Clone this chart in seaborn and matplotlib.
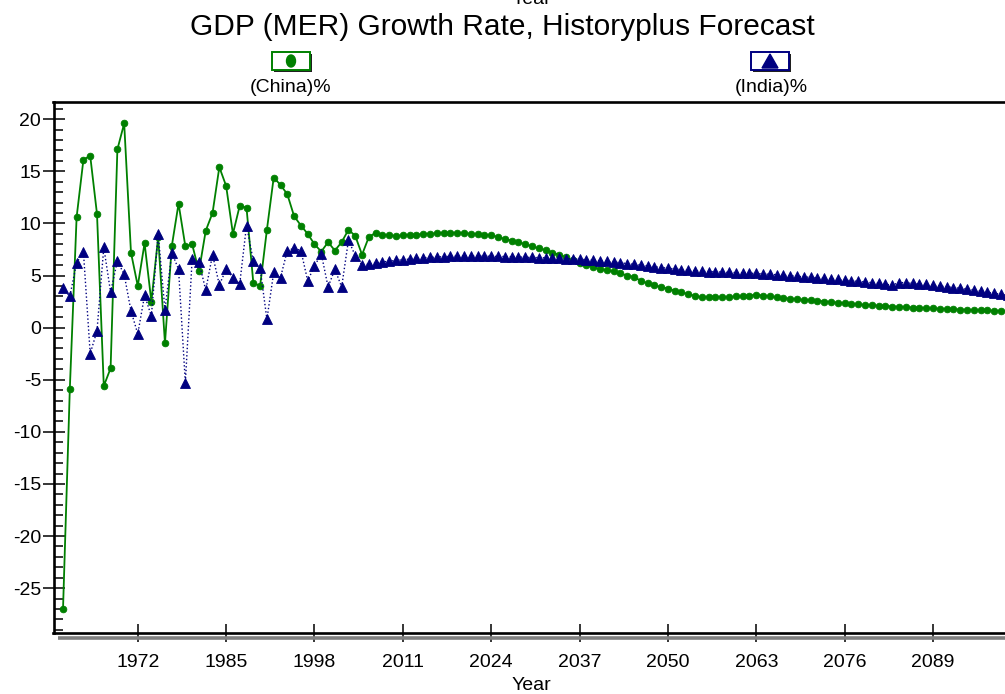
import matplotlib
matplotlib.use("Agg")
import matplotlib.pyplot as plt
import seaborn as sns
import pandas as pd
from matplotlib.ticker import MultipleLocator, FixedLocator
from matplotlib.patches import Rectangle, Ellipse, Polygon
from matplotlib.lines import Line2D

# ---- data -------------------------------------------------------------
hist_years = list(range(1961, 2005))
fcst_years = list(range(2005, 2101))

china_hist = [-27.0, -5.9, 10.6, 16.1, 16.5, 10.9, -5.6, -3.9, 17.1, 19.6,
              7.2, 4.0, 8.1, 2.5, 8.7, -1.5, 7.8, 11.9, 7.8, 8.0,
              5.4, 9.3, 11.0, 15.4, 13.6, 9.0, 11.7, 11.5, 4.3, 4.0,
              9.4, 14.4, 13.7, 12.8, 10.7, 9.8, 9.0, 8.0, 7.3, 8.2,
              7.4, 8.2, 9.4, 8.8]
china_fcst = [7.0, 8.7, 9.1, 8.9, 8.85, 8.8, 8.85, 8.9, 8.9, 9.0,
              9.0, 9.05, 9.1, 9.1, 9.1, 9.05, 9.0, 8.95, 8.9, 8.85,
              8.7, 8.5, 8.35, 8.2, 8.0, 7.8, 7.6, 7.45, 7.2, 7.0,
              6.75, 6.45, 6.2, 6.0, 5.8, 5.6, 5.5, 5.4, 5.2, 5.0,
              4.85, 4.5, 4.25, 4.05, 3.9, 3.75, 3.55, 3.4, 3.2, 3.05,
              2.9, 2.95, 2.95, 2.92, 2.92, 3.0, 3.0, 3.08, 3.14, 3.08,
              3.0, 2.9, 2.82, 2.78, 2.72, 2.66, 2.63, 2.57, 2.5, 2.44,
              2.38, 2.32, 2.28, 2.22, 2.18, 2.15, 2.1, 2.06, 2.02, 1.99,
              1.96, 1.93, 1.9, 1.87, 1.84, 1.8, 1.77, 1.75, 1.73, 1.71,
              1.69, 1.67, 1.65, 1.63, 1.6, 1.57]

india_hist = [3.8, 3.0, 6.2, 7.3, -2.5, -0.3, 7.7, 3.4, 6.4, 5.1,
              1.6, -0.6, 3.1, 1.1, 9.0, 1.7, 7.2, 5.6, -5.3, 6.6,
              6.3, 3.6, 7.0, 4.1, 5.6, 4.8, 4.2, 9.8, 6.4, 5.7,
              0.8, 5.3, 4.8, 7.4, 7.6, 7.4, 4.5, 5.9, 7.1, 3.9,
              5.6, 3.9, 8.4, 6.9]
india_fcst = [6.0, 6.1, 6.2, 6.3, 6.38, 6.45, 6.52, 6.58, 6.64, 6.7,
              6.74, 6.78, 6.81, 6.84, 6.86, 6.87, 6.87, 6.87, 6.86, 6.85,
              6.84, 6.82, 6.8, 6.78, 6.76, 6.74, 6.72, 6.7, 6.68, 6.66,
              6.63, 6.6, 6.56, 6.52, 6.47, 6.42, 6.36, 6.3, 6.22, 6.15,
              6.07, 6.0, 5.92, 5.84, 5.77, 5.7, 5.62, 5.56, 5.5, 5.45,
              5.41, 5.38, 5.35, 5.32, 5.3, 5.28, 5.26, 5.23, 5.2, 5.16,
              5.12, 5.08, 5.03, 4.98, 4.93, 4.88, 4.83, 4.78, 4.73, 4.67,
              4.62, 4.56, 4.5, 4.44, 4.38, 4.32, 4.25, 4.17, 4.08, 4.33,
              4.3, 4.25, 4.2, 4.14, 4.07, 4.0, 3.93, 3.85, 3.77, 3.68,
              3.6, 3.5, 3.4, 3.3, 3.2, 3.1]

x_ticks = [1972, 1985, 1998, 2011, 2024, 2037, 2050, 2063, 2076, 2089]
y_ticks = [-25, -20, -15, -10, -5, 0, 5, 10, 15, 20]

title = "GDP (MER) Growth Rate, Historyplus Forecast"
labels = ["(China)%", "(India)%"]

df = pd.DataFrame({
    "Year": hist_years + fcst_years,
    "China": china_hist + china_fcst,
    "India": india_hist + india_fcst,
})

# ---- style ------------------------------------------------------------
sns.set_theme(style="white")
plt.rcParams["font.family"] = ["Liberation Sans", "DejaVu Sans"]
plt.rcParams["text.color"] = "black"
plt.rcParams["xtick.color"] = "black"
plt.rcParams["ytick.color"] = "black"
plt.rcParams["xtick.labelcolor"] = "black"
plt.rcParams["ytick.labelcolor"] = "black"

W, H = 1005, 694
fig = plt.figure(figsize=(W / 100, H / 100), dpi=100)
fig.patch.set_facecolor("white")


def fx(px):
    return px / W


def fy(py):
    return 1 - py / H


left, right, top, bottom = 53.5, 1005, 102, 633
ax = fig.add_axes([fx(left), fy(bottom), fx(right) - fx(left), fy(top) - fy(bottom)])
ax.set_facecolor("white")

GREEN = "#008000"
NAVY = "#000080"

sns.lineplot(data=df, x="Year", y="China", ax=ax, color=GREEN, linewidth=1.3,
             marker="o", markersize=4.8, markeredgecolor=GREEN,
             markeredgewidth=0.6, legend=False, zorder=3)
sns.lineplot(data=df, x="Year", y="India", ax=ax, color=NAVY, linewidth=1.0,
             linestyle=":", marker="^", markersize=7.0, markeredgecolor=NAVY,
             markeredgewidth=0.6, legend=False, zorder=4)

ax.set_xlim(1959.6, 2099.6)
ax.set_ylim(-29.3, 21.65)

ax.xaxis.set_major_locator(FixedLocator(x_ticks))
ax.set_xticklabels([str(t) for t in x_ticks])
ax.yaxis.set_major_locator(FixedLocator(y_ticks))
ax.set_yticklabels([str(t) for t in y_ticks])
ax.yaxis.set_minor_locator(MultipleLocator(1))

ax.tick_params(axis="x", which="major", direction="inout", length=12.5,
               width=1.1, color="black", labelcolor="black", labelsize=14,
               pad=9, bottom=True, top=False)
ax.tick_params(axis="y", which="major", direction="inout", length=16,
               width=1.1, color="black", labelcolor="black", labelsize=14,
               pad=1, left=True)
ax.tick_params(axis="y", which="minor", direction="in", length=6.5,
               width=1.1, color="black", left=True)

for name in ["left", "top", "bottom"]:
    ax.spines[name].set_color("black")
    ax.spines[name].set_linewidth(1.9)
ax.spines["right"].set_visible(False)

ax.set_xlabel("")
ax.set_ylabel("")

# shadow under the time axis
fig.add_artist(Line2D([fx(58), 1.0], [fy(638), fy(638)], color="#808080",
                      linewidth=2.6, solid_capstyle="butt"))

# ---- titles -----------------------------------------------------------
fig.text(0.5, fy(27), title, ha="center", va="center", fontsize=21.5,
         color="black")
fig.text(fx(531), fy(4), "Year", ha="center", va="baseline", fontsize=14,
         color="black")
fig.text(fx(531), fy(690), "Year", ha="center", va="baseline", fontsize=14,
         color="black")

# ---- legend keys ------------------------------------------------------
def key_box(cx, edge):
    bw, bh = 38, 18
    x0, y0 = cx - bw / 2, 52
    fig.add_artist(Rectangle((fx(x0 + 2), fy(y0 + bh + 2)), fx(bw), bh / H,
                             facecolor="#202020", edgecolor="none"))
    fig.add_artist(Rectangle((fx(x0), fy(y0 + bh)), fx(bw), bh / H,
                             facecolor="white", edgecolor=edge, linewidth=1.4))
    return x0, y0, bw, bh


x0, y0, bw, bh = key_box(291, GREEN)
fig.add_artist(Ellipse((fx(291), fy(y0 + bh / 2)), fx(9), 12 / H,
                       facecolor=GREEN, edgecolor=GREEN))
x0, y0, bw, bh = key_box(770, NAVY)
fig.add_artist(Polygon([(fx(770), fy(y0 + 2)), (fx(762), fy(y0 + bh - 2)),
                        (fx(778), fy(y0 + bh - 2))], closed=True,
                       facecolor=NAVY, edgecolor=NAVY))

fig.text(fx(291), fy(87), labels[0], ha="center", va="center", fontsize=14)
fig.text(fx(771), fy(87), labels[1], ha="center", va="center", fontsize=14)

fig.savefig("out.png", dpi=100, facecolor="white")
